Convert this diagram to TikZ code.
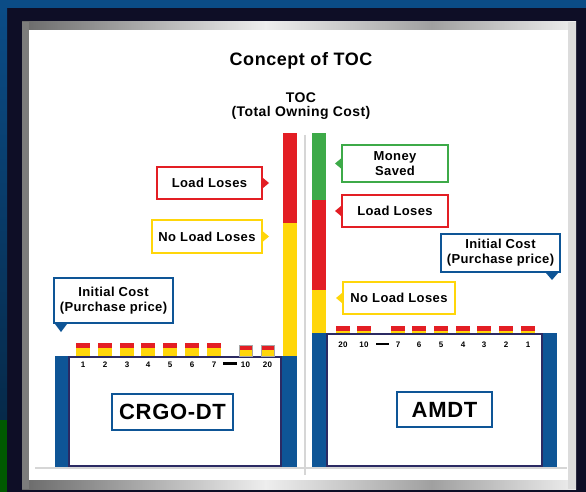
\documentclass[tikz,border=0pt]{standalone}
\usepackage{fontspec}
\setmainfont{Liberation Sans}[LetterSpace=3]
\definecolor{tred}{HTML}{E31E24}
\definecolor{tyellow}{HTML}{FFD60A}
\definecolor{tgreen}{HTML}{3DAA48}
\definecolor{tblue}{HTML}{0E5596}
\definecolor{tnavy}{HTML}{2B2A63}
\definecolor{bgblue}{HTML}{0B4C86}
\definecolor{bgdark}{HTML}{0E0E26}
\definecolor{frA}{HTML}{6A6A6A}
\definecolor{frB}{HTML}{EEEEEE}
\definecolor{frC}{HTML}{A0A0A0}
\definecolor{frL}{HTML}{7C7C7C}
\definecolor{frR}{HTML}{DCDCDC}
\definecolor{rule}{HTML}{D6D6D6}
\pgfdeclarehorizontalshading{metal}{100bp}{color(0bp)=(frA); color(25bp)=(frA); color(47bp)=(frB); color(62bp)=(frC); color(75bp)=(frB); color(100bp)=(frB)}
\begin{document}
\begin{tikzpicture}[x=1pt,y=-1pt,
  callout/.style={draw=#1, line width=2pt, fill=white, inner sep=0pt, align=center,
                  font=\bfseries\fontsize{13}{15}\selectfont},
  num/.style={font=\bfseries\fontsize{8}{9}\selectfont, anchor=base, inner sep=0pt},
  namebox/.style={draw=tblue, line width=2.5pt, fill=white, inner sep=0pt,
                  font=\bfseries\fontsize{22}{24}\selectfont},
  heading/.style={anchor=base, inner sep=0pt, font=\bfseries\fontsize{#1}{#1}\selectfont}
]
\useasboundingbox (0,0) rectangle (586,492);

% backdrop and metallic frame
\fill[bgdark] (0,0) rectangle (586,492);
\fill[bgblue] (0,0) rectangle (586,8);
\shade[top color=bgblue, bottom color=bgblue!55!black] (0,8) rectangle (7,420);
\fill[green!35!black] (0,420) rectangle (7,492);
\shade[shading=metal] (22,22) rectangle (576,489);
\fill[frL] (22,22) rectangle (29,489);
\fill[frR] (568,22) rectangle (576,489);
\fill[white] (29,30) rectangle (568,480);

% headings
\node[heading=18] (title) at (301,66) {Concept of TOC};
\node[heading=14] (toc) at (301,103) {TOC};
\node[heading=14] (tocfull) at (301,117) {(Total Owning Cost)};

% divider and floor line
\draw[rule, line width=1.5pt] (305,135) -- (305,475);
\draw[rule, line width=1.5pt] (35,468) -- (567,468);

% cost bars
\fill[tred] (283,133) rectangle (297,223);
\fill[tyellow] (283,223) rectangle (297,357);
\fill[tgreen] (312,133) rectangle (326,200);
\fill[tred] (312,200) rectangle (326,290);
\fill[tyellow] (312,290) rectangle (326,333);

% CRGO-DT unit
\fill[tblue] (55,356) rectangle (297,467);
\draw[tnavy, line width=2pt, fill=white] (69,357) rectangle (281,466);
\foreach \x/\t in {76/1,98/2,120/3,141/4,163/5,185/6,207/7} {
  \fill[tred] (\x,343) rectangle ++(14,5);
  \fill[tyellow] (\x,348) rectangle ++(14,8);
  \node[num] (l\t) at (\x+7,367) {\t};
}
\foreach \x/\t in {239/10,261/20} {
  \fill[tred] (\x,345) rectangle ++(13,5);
  \fill[tyellow] (\x,350) rectangle ++(13,6);
  \draw[black!35, line width=0.4pt] (\x,345) rectangle ++(13,11);
  \node[num] (l\t) at (\x+6.5,367) {\t};
}
\draw[line width=2.5pt] (223,363.5) -- (237,363.5);
\node[namebox, minimum width=121pt, minimum height=36pt] (crgo) at (172.5,412) {CRGO-DT};

% AMDT unit
\fill[tblue] (312,333) rectangle (557,467);
\draw[tnavy, line width=2pt, fill=white] (327,334) rectangle (542,466);
\foreach \x/\t in {336/20,357/10,391/7,412/6,434/5,456/4,477/3,499/2,521/1} {
  \fill[tred] (\x,326) rectangle ++(14,5);
  \fill[tyellow] (\x,331) rectangle ++(14,2);
  \node[num] (r\t) at (\x+7,347) {\t};
}
\draw[line width=2.5pt] (376,344) -- (389,344);
\node[namebox, minimum width=95pt, minimum height=35pt] (amdt) at (444.5,409.5) {AMDT};

% callouts, left side
\node[callout=tred, minimum width=105pt, minimum height=32pt] (lload) at (209.5,183) {Load Loses};
\fill[tred] ([yshift=5pt]lload.east) -- ([xshift=6pt]lload.east) -- ([yshift=-5pt]lload.east) -- cycle;
\node[callout=tyellow, minimum width=110pt, minimum height=33pt] (lnoload) at (207,236.5) {No Load Loses};
\fill[tyellow] ([yshift=5pt]lnoload.east) -- ([xshift=6pt]lnoload.east) -- ([yshift=-5pt]lnoload.east) -- cycle;
\node[callout=tblue, minimum width=119pt, minimum height=45pt] (linit) at (113.5,300.5) {Initial Cost\\(Purchase price)};
\fill[tblue] ([xshift=2pt]linit.south west) -- ([xshift=8pt,yshift=-8pt]linit.south west) -- ([xshift=14pt]linit.south west) -- cycle;

% callouts, right side
\node[callout=tgreen, minimum width=106pt, minimum height=37pt] (rsaved) at (395,163.5) {Money\\Saved};
\fill[tgreen] ([yshift=5pt]rsaved.west) -- ([xshift=-6pt]rsaved.west) -- ([yshift=-5pt]rsaved.west) -- cycle;
\node[callout=tred, minimum width=106pt, minimum height=32pt] (rload) at (395,211) {Load Loses};
\fill[tred] ([yshift=5pt]rload.west) -- ([xshift=-6pt]rload.west) -- ([yshift=-5pt]rload.west) -- cycle;
\node[callout=tblue, minimum width=119pt, minimum height=38pt] (rinit) at (500.5,253) {Initial Cost\\(Purchase price)};
\fill[tblue] ([xshift=-15pt]rinit.south east) -- ([xshift=-9pt,yshift=-7pt]rinit.south east) -- ([xshift=-3pt]rinit.south east) -- cycle;
\node[callout=tyellow, minimum width=112pt, minimum height=32pt] (rnoload) at (399,298) {No Load Loses};
\fill[tyellow] ([yshift=5pt]rnoload.west) -- ([xshift=-6pt]rnoload.west) -- ([yshift=-5pt]rnoload.west) -- cycle;
\end{tikzpicture}
\end{document}
